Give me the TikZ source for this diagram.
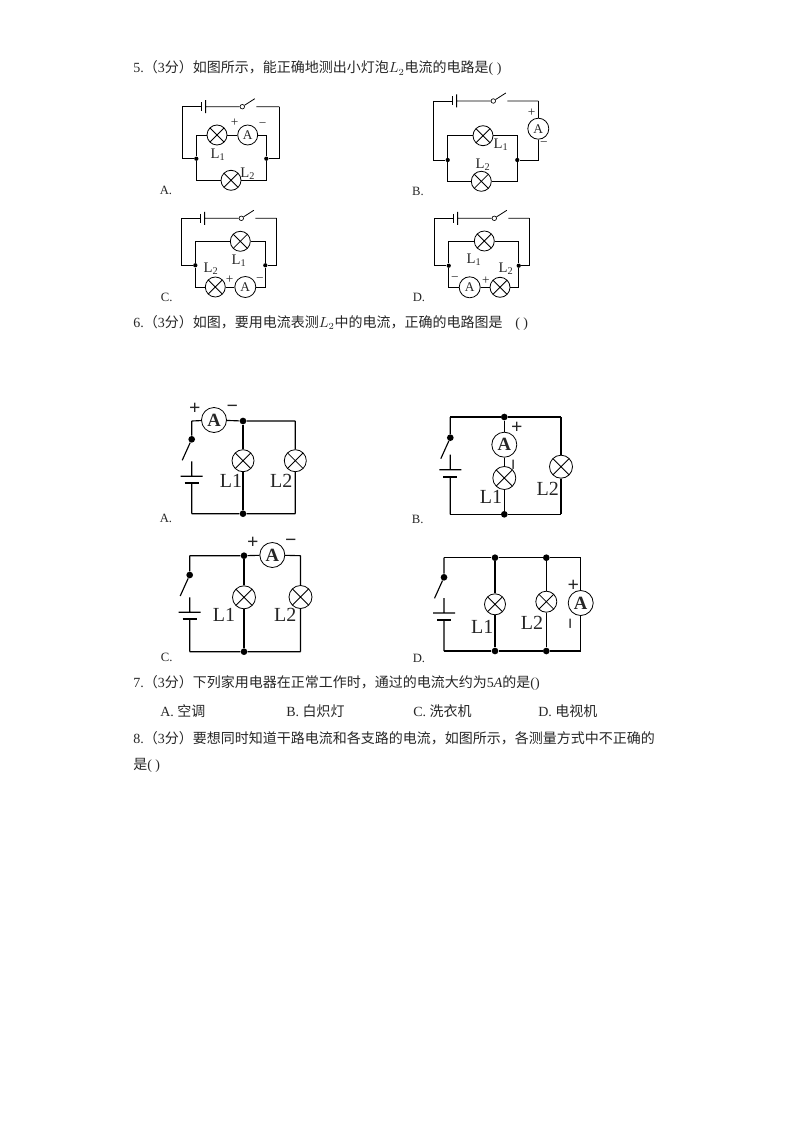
\documentclass[tikz,border=0pt]{standalone}
\usepackage{fontspec}
\setmainfont{Liberation Serif}
\newfontfamily\cjk{Noto Sans CJK SC}
\usepackage{tikz}
\usetikzlibrary{positioning}
\newcommand{\zh}[1]{{\cjk #1}}
\tikzset{
    wire/.style={draw,line width=0.6pt},
    thick wire/.style={draw,line width=0.85pt},
    lamp/.style={circle,draw,inner sep=0pt,minimum size=#1*0.75pt,line width=0.6pt,
        path picture={\draw[line width=0.6pt]
            (path picture bounding box.north west)--(path picture bounding box.south east)
            (path picture bounding box.south west)--(path picture bounding box.north east);}},
    meter/.style={circle,draw,inner sep=0pt,minimum size=#1*0.75pt,line width=0.6pt,font=\fontsize{10}{10}\selectfont},
    big meter/.style={meter=#1,font=\fontsize{14}{14}\selectfont\bfseries},
    joint/.style={circle,fill,inner sep=0pt,minimum size=3.2pt},
    big joint/.style={circle,fill,inner sep=0pt,minimum size=5pt},
    contact/.style={circle,draw,fill=white,inner sep=0pt,minimum size=3.4pt,line width=0.5pt},
    tag/.style={inner sep=0pt,font=\fontsize{11}{11}\selectfont},
    big tag/.style={inner sep=0pt,font=\fontsize{15}{15}\selectfont},
    sign/.style={inner sep=0pt,font=\fontsize{10}{10}\selectfont},
    big sign/.style={inner sep=0pt,font=\fontsize{15}{15}\selectfont\bfseries},
    choice/.style={inner sep=0pt,font=\fontsize{9.5}{9.5}\selectfont},
    qline/.style={inner sep=0pt,anchor=west,font=\fontsize{10.5}{10.5}\selectfont},
}
% battery and switch on the top wire of the small circuits
\newcommand{\toprow}[5]{
    \coordinate (tl) at (#2,#1);
    \coordinate (tr) at (#3,#1);
    \coordinate (pa) at (#4,#1);
    \coordinate (pb) at (#4+4.3,#1);
    \node[contact] (sw) at (#5,#1) {};
    \coordinate (lv) at (#5+12.5,#1-8);
    \coordinate (sr) at (#5+14,#1);
    \draw[wire] (tl)--(pa) (pa)+(0,-4.5)--+(0,4.5);
    \draw[wire] (pb)+(0,-6.5)--+(0,6.5) (pb)--(sw) (sw)--(lv) (sr)--(tr);
}
% switch and battery on the left wire of the large circuits
\newcommand{\leftrow}[5]{
    \coordinate (tl) at (#1,#2);
    \coordinate (bl) at (#1,#3);
    \node[big joint] (sw) at (#1,#4) {};
    \coordinate (lv) at (#1-9.5,#4+21);
    \coordinate (st) at (#1,#5-15);
    \coordinate (pa) at (#1,#5);
    \coordinate (pb) at (#1,#5+7);
    \draw[thick wire] (tl)--(sw) (sw)--(lv) (st)--(pa) (pa)+(-11,0)--+(11,0) (pb)--(bl);
    \draw[draw,line width=1.5pt] (pb)+(-7,0)--+(7,0);
}

\begin{document}
\begin{tikzpicture}[x=0.75pt,y=-0.75pt,text=black!85]
\useasboundingbox (0,0) rectangle (794,1123);

\node[qline] (q5) at (133,68.5) {5.\zh{（}3\zh{分）如图所示，能正确地测出小灯泡}$L_2$\zh{电流的电路是}( )};

% ---- question 5, A
\begin{scope}[name prefix=a-]
    \toprow{106.7}{182.3}{279.3}{201.3}{242.3}
    \node[joint] (jl) at (196.3,158.7) {};
    \node[joint] (jr) at (266.3,158.7) {};
    \node[lamp=20] (la) at (217,135) {};
    \node[meter=20] (am) at (247.7,135) {A};
    \node[lamp=20] (lb) at (231,180.3) {};
    \draw[wire] (tl)|-(jl) (tr)|-(jr);
    \draw[wire] (jl)|-(la) (la)--(am) (am)-|(jr);
    \draw[wire] (jl)|-(lb) (lb)-|(jr);
    \node[sign] (sp) at (234.7,122.3) {+};
    \node[sign] (sm) at (262.7,125) {−};
    \node[tag] (ta) at (218,154.3) {L\textsubscript{1}};
    \node[tag] (tb) at (247.7,173.3) {L\textsubscript{2}};
    \node[choice] (ch) at (166,190) {A.};
\end{scope}

% ---- question 5, B
\begin{scope}[name prefix=b-]
    \toprow{101}{433.3}{538.3}{452.3}{493.3}
    \node[joint] (jl) at (447.7,160) {};
    \node[joint] (jr) at (517.3,160) {};
    \node[lamp=20] (la) at (483,135.7) {};
    \node[lamp=20] (lb) at (481.3,181.3) {};
    \node[meter=21] (am) at (538.3,128.7) {A};
    \draw[wire] (tl)|-(jl) (tr)--(am) (am)|-(jr);
    \draw[wire] (jl)|-(la) (la)-|(jr);
    \draw[wire] (jl)|-(lb) (lb)-|(jr);
    \node[sign] (sp) at (531.7,112.3) {+};
    \node[sign] (sm) at (544,144.3) {−};
    \node[tag] (ta) at (501,145) {L\textsubscript{1}};
    \node[tag] (tb) at (483,165) {L\textsubscript{2}};
    \node[choice] (ch) at (418,191) {B.};
\end{scope}

% ---- question 5, C
\begin{scope}[name prefix=c-]
    \toprow{218.3}{181.3}{276.7}{200.3}{241.3}
    \node[joint] (jl) at (195.3,265.3) {};
    \node[joint] (jr) at (265.3,265.3) {};
    \node[lamp=20] (la) at (240.3,241.3) {};
    \node[lamp=20] (lb) at (215.3,287) {};
    \node[meter=21] (am) at (245.3,287) {A};
    \draw[wire] (tl)|-(jl) (tr)|-(jr);
    \draw[wire] (jl)|-(la) (la)-|(jr);
    \draw[wire] (jl)|-(lb) (lb)--(am) (am)-|(jr);
    \node[tag] (ta) at (239,260.7) {L\textsubscript{1}};
    \node[tag] (tb) at (211,269) {L\textsubscript{2}};
    \node[sign] (sp) at (229.7,279.7) {+};
    \node[sign] (sm) at (260,279.7) {−};
    \node[choice] (ch) at (166.7,297.3) {C.};
\end{scope}

% ---- question 5, D
\begin{scope}[name prefix=d-]
    \toprow{218.3}{434.3}{529.3}{453.3}{494.3}
    \node[joint] (jl) at (448.7,265.7) {};
    \node[joint] (jr) at (518.7,265.7) {};
    \node[lamp=20] (la) at (484.3,241) {};
    \node[meter=21] (am) at (469.7,287.3) {A};
    \node[lamp=20] (lb) at (500,287.3) {};
    \draw[wire] (tl)|-(jl) (tr)|-(jr);
    \draw[wire] (jl)|-(la) (la)-|(jr);
    \draw[wire] (jl)|-(am) (am)--(lb) (lb)-|(jr);
    \node[tag] (ta) at (474,260) {L\textsubscript{1}};
    \node[tag] (tb) at (506,268.3) {L\textsubscript{2}};
    \node[sign] (sm) at (455,279) {−};
    \node[sign] (sp) at (486,281) {+};
    \node[choice] (ch) at (419,297) {D.};
\end{scope}

\node[qline] (q6) at (133,322.5) {6.\zh{（}3\zh{分）如图，要用电流表测}$L_2$\zh{中的电流，正确的电路图是}\hspace{0.9em}( )};

% ---- question 6, A
\begin{scope}[name prefix=e-]
    \leftrow{191.7}{421}{513.7}{439.3}{476.3}
    \node[big meter=25] (am) at (214,420) {A};
    \node[big joint] (jt) at (243,421) {};
    \node[big joint] (jb) at (243,513.7) {};
    \node[lamp=22] (la) at (243,460.7) {};
    \node[lamp=22] (lb) at (295.3,460.7) {};
    \coordinate (tr) at (295.3,421);
    \coordinate (br) at (295.3,513.7);
    \draw[thick wire] (tl)--(am) (am)--(jt) (jt)--(tr) (tr)--(lb) (lb)--(br) (br)--(jb) (jb)--(bl);
    \draw[thick wire] (jt)--(la) (la)--(jb);
    \node[big sign] (sp) at (194.7,409) {+};
    \node[big sign] (sm) at (232.3,409) {−};
    \node[big tag] (ta) at (231,480.7) {L1};
    \node[big tag] (tb) at (281.3,480.7) {L2};
    \node[choice] (ch) at (166,518.3) {A.};
\end{scope}

% ---- question 6, B
\begin{scope}[name prefix=f-]
    \leftrow{450.3}{417}{514.3}{437.7}{469.7}
    \node[big joint] (jt) at (504.3,417) {};
    \node[big joint] (jb) at (504.3,514.3) {};
    \node[big meter=25] (am) at (504.3,444.7) {A};
    \node[lamp=23] (la) at (504.3,478) {};
    \node[lamp=23] (lb) at (561,466.7) {};
    \coordinate (tr) at (561,417);
    \coordinate (br) at (561,514.3);
    \draw[thick wire] (tl)--(jt) (jt)--(tr) (tr)--(lb) (lb)--(br) (br)--(jb) (jb)--(bl);
    \draw[thick wire] (jt)--(am) (am)--(la) (la)--(jb);
    \node[big sign] (sp) at (516.7,427.7) {+};
    \node[big sign,rotate=90] (sm) at (516.3,465) {−};
    \node[big tag] (ta) at (491,496.7) {L1};
    \node[big tag] (tb) at (547.7,489) {L2};
    \node[choice] (ch) at (417.7,519) {B.};
\end{scope}

% ---- question 6, C
\begin{scope}[name prefix=g-]
    \leftrow{189.7}{555.7}{651.7}{575}{612.3}
    \node[big joint] (jt) at (244,555.7) {};
    \node[big joint] (jb) at (244,651.7) {};
    \node[big meter=25] (am) at (272.3,555) {A};
    \node[lamp=23] (la) at (244,597.3) {};
    \node[lamp=23] (lb) at (300.5,597) {};
    \coordinate (tr) at (300.5,555.7);
    \coordinate (br) at (300.5,651.7);
    \draw[thick wire] (tl)--(jt) (jt)--(am) (am)--(tr) (tr)--(lb) (lb)--(br) (br)--(jb) (jb)--(bl);
    \draw[thick wire] (jt)--(la) (la)--(jb);
    \node[big sign] (sp) at (252.7,543.3) {+};
    \node[big sign] (sm) at (290.7,543.3) {−};
    \node[big tag] (ta) at (224,615) {L1};
    \node[big tag] (tb) at (285.3,615) {L2};
    \node[choice] (ch) at (166.7,657.7) {C.};
\end{scope}

% ---- question 6, D
\begin{scope}[name prefix=h-]
    \leftrow{444}{557.7}{651}{577.3}{613}
    \node[big joint] (ja) at (495,557.7) {};
    \node[big joint] (jb) at (546.3,557.7) {};
    \node[big joint] (jc) at (495,651) {};
    \node[big joint] (jd) at (546.3,651) {};
    \node[lamp=21] (la) at (495,604.3) {};
    \node[lamp=21] (lb) at (546.3,601.7) {};
    \node[big meter=25] (am) at (580.7,603) {A};
    \coordinate (tr) at (580.7,557.7);
    \coordinate (br) at (580.7,651);
    \draw[thick wire] (tl)--(ja) (ja)--(jb) (jb)--(tr) (tr)--(am) (am)--(br) (br)--(jd) (jd)--(jc) (jc)--(bl);
    \draw[thick wire] (ja)--(la) (la)--(jc);
    \draw[thick wire] (jb)--(lb) (lb)--(jd);
    \node[big sign] (sp) at (573.3,586) {+};
    \node[big sign,rotate=90] (sm) at (573.3,623.3) {−};
    \node[big tag] (ta) at (482.3,627) {L1};
    \node[big tag] (tb) at (532,623.3) {L2};
    \node[choice] (ch) at (419,658.3) {D.};
\end{scope}

\node[qline] (q7) at (133,683) {7.\zh{（}3\zh{分）下列家用电器在正常工作时，通过的电流大约为}5\textit{A}\zh{的是}()};
\node[qline] (oa) at (160,711) {A. \zh{空调}};
\node[qline] (ob) at (286,711) {B. \zh{白炽灯}};
\node[qline] (oc) at (413,711) {C. \zh{洗衣机}};
\node[qline] (od) at (538,711) {D. \zh{电视机}};
\node[qline] (q8) at (133,738) {8.\zh{（}3\zh{分）要想同时知道干路电流和各支路的电流，如图所示，各测量方式中不正确的}};
\node[qline] (q8b) at (133,765.5) {\zh{是}( )};
\end{tikzpicture}
\end{document}
